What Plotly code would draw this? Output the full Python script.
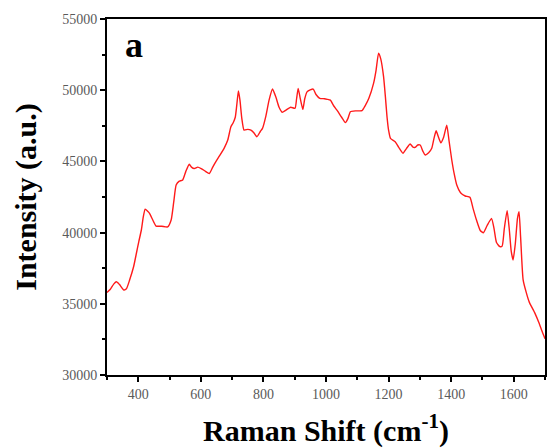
import plotly.graph_objects as go

raman_shift = [300, 310, 322, 330, 340, 354, 362, 372, 385, 394, 402, 410, 416, 422, 430, 436, 446, 457, 475, 494,
               505, 513, 521, 530, 542, 552, 563, 570, 579, 590, 601, 615, 627, 638, 648, 660, 675, 686, 696, 703,
               710, 715, 720, 725, 731, 738, 750, 760, 770, 779, 790, 797, 808, 818, 829, 840, 850, 860, 872, 887,
               901, 906, 911, 917, 926, 932, 940, 959, 968, 980, 995, 1004, 1014, 1025, 1035, 1050, 1062, 1070, 1078, 1095,
               1115, 1125, 1137, 1152, 1160, 1168, 1175, 1184, 1190, 1195, 1200, 1206, 1221, 1232, 1246, 1257, 1269, 1278, 1285, 1293,
               1301, 1310, 1317, 1328, 1338, 1345, 1352, 1358, 1367, 1376, 1386, 1393, 1402, 1410, 1418, 1430, 1445, 1460, 1470, 1481,
               1493, 1503, 1515, 1529, 1537, 1545, 1556, 1563, 1570, 1579, 1586, 1592, 1598, 1605, 1612, 1617, 1622, 1630, 1640, 1650,
               1657, 1668, 1680, 1690, 1700]
intensity = [35800, 36000, 36400, 36550, 36350, 35970, 36050, 36650, 37600, 38550, 39400, 40200, 41100, 41650, 41500, 41350, 40900, 40460, 40450, 40400,
             40880, 42100, 43340, 43600, 43700, 44300, 44800, 44600, 44500, 44600, 44500, 44300, 44150, 44600, 44980, 45400, 45950, 46500, 47430, 47700,
             48100, 49000, 49950, 49300, 48000, 47200, 47250, 47200, 47000, 46730, 47100, 47320, 48200, 49300, 50080, 49500, 48800, 48450, 48600, 48800,
             48730, 49400, 50130, 49500, 48650, 49400, 49900, 50080, 49700, 49430, 49400, 49360, 49300, 48890, 48600, 48100, 47720, 48000, 48490, 48550,
             48560, 48900, 49430, 50480, 51400, 52600, 52200, 50950, 49500, 48140, 47200, 46620, 46380, 46000, 45570, 45900, 46220, 46000, 45990, 46150,
             46150, 45700, 45450, 45600, 45920, 46600, 47150, 46800, 46310, 46700, 47550, 46500, 45100, 44100, 43340, 42800, 42570, 42480, 41700, 40880,
             40150, 39990, 40500, 41000, 40300, 39300, 39010, 39050, 40300, 41540, 40200, 38700, 38080, 39200, 41000, 41470, 39700, 36700, 35800, 35100,
             34800, 34330, 33700, 33100, 32550]

x_ticks = [400, 600, 800, 1000, 1200, 1400, 1600]
y_ticks = [30000, 35000, 40000, 45000, 50000, 55000]
y_tick_labels = [str(v) for v in y_ticks]

fig = go.Figure()
fig.add_trace(go.Scatter(x=raman_shift, y=intensity, mode="lines",
                         line=dict(color="#ff1a1a", width=1.4, shape="spline", smoothing=0.5),
                         showlegend=False))

serif = "Liberation Serif, Times New Roman, serif"
tick_font = dict(family=serif, size=14, color="#5a5a5a")
title_font = dict(family=serif, size=30, color="#000000")

fig.update_layout(
    width=548, height=448,
    margin=dict(l=107, r=1, t=19, b=73),
    paper_bgcolor="white", plot_bgcolor="white",
    xaxis=dict(range=[300, 1700], tickvals=x_ticks, ticks="outside", ticklen=5, tickwidth=2,
               tickcolor="black", showline=True, linecolor="black", linewidth=2, mirror=True,
               showgrid=False, zeroline=False, tickfont=tick_font,
               minor=dict(dtick=100, tick0=300, ticks="outside", ticklen=3, tickwidth=2, tickcolor="black"),
               title=dict(text="<b>Raman Shift (cm<sup>-1</sup>)</b>", font=title_font, standoff=21)),
    yaxis=dict(range=[30000, 55000], tickvals=y_ticks, ticktext=y_tick_labels, ticks="outside", ticklen=5,
               tickwidth=2, tickcolor="black", showline=True, linecolor="black", linewidth=2, mirror=True,
               showgrid=False, zeroline=False, tickfont=tick_font,
               minor=dict(dtick=2500, tick0=30000, ticks="outside", ticklen=3, tickwidth=2, tickcolor="black"),
               title=dict(text="<b>Intensity (a.u.)</b>", font=title_font, standoff=17)),
    annotations=[dict(text="<b>a</b>", x=0.036, y=0.989, xref="paper", yref="paper",
                      xanchor="left", yanchor="top", showarrow=False,
                      font=dict(family=serif, size=36, color="black"))],
)

fig.write_html("out.html")
